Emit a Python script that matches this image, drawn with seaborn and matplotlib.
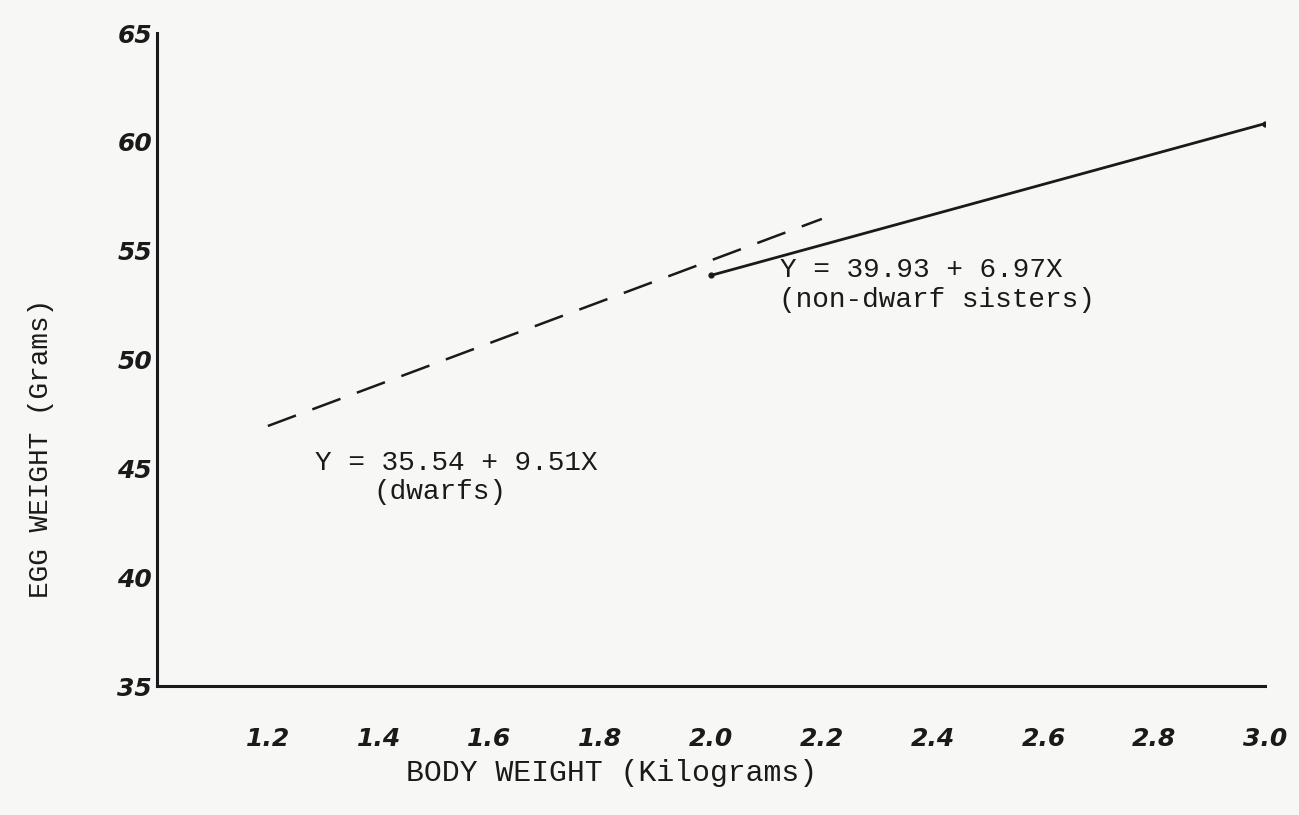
import numpy as np
import pandas as pd
import matplotlib
matplotlib.use("Agg")
import matplotlib.pyplot as plt
import seaborn as sns

# regression lines (body weight kg -> egg weight g)
dwarf_x = [1.2, 2.2]
dwarf_y = [35.54 + 9.51 * x for x in dwarf_x]
sister_x = [2.0, 3.0]
sister_y = [39.93 + 6.97 * x for x in sister_x]

x_ticks = [1.2, 1.4, 1.6, 1.8, 2.0, 2.2, 2.4, 2.6, 2.8, 3.0]
x_labels = ["1.2", "1.4", "1.6", "1.8", "2.0", "2.2", "2.4", "2.6", "2.8", "3.0"]
y_ticks = [35, 40, 45, 50, 55, 60, 65]
y_labels = ["35", "40", "45", "50", "55", "60", "65"]

dwarf_df = pd.DataFrame({"body": dwarf_x, "egg": dwarf_y})
sister_df = pd.DataFrame({"body": sister_x, "egg": sister_y})

sns.set_style("white")
plt.rcParams["font.family"] = ["DejaVu Sans"]

bg = "#f7f7f6"
ink = "#1a1a1a"
fig = plt.figure(figsize=(12.99, 8.15), dpi=100, facecolor=bg)
ax = fig.add_axes([0.1209, 0.158, 0.853, 0.8015])
ax.set_facecolor(bg)

sns.lineplot(data=dwarf_df, x="body", y="egg", ax=ax, color=ink, lw=1.8,
             linestyle=(0, (12, 7)))
sns.lineplot(data=sister_df, x="body", y="egg", ax=ax, color=ink, lw=2)
ax.scatter(sister_x, sister_y, s=12, color=ink, zorder=3)

ax.set_xlim(1.0, 3.0)
ax.set_ylim(35, 65)
ax.set_xticks(x_ticks)
ax.set_xticklabels(x_labels, fontsize=18, fontweight="bold", fontstyle="italic", color=ink)
ax.set_yticks(y_ticks)
ax.set_yticklabels(y_labels, fontsize=18, fontweight="bold", fontstyle="italic", color=ink)
ax.tick_params(axis="x", length=3, width=2, pad=28, color=ink, direction="inout")
ax.tick_params(axis="y", length=3, width=2, pad=2, color=ink, direction="inout")

for side in ["top", "right"]:
    ax.spines[side].set_visible(False)
for side in ["left", "bottom"]:
    ax.spines[side].set_linewidth(2.2)
    ax.spines[side].set_color(ink)

mono = "Liberation Mono"
ax.set_xlabel("BODY WEIGHT (Kilograms)", fontsize=21.5, family=mono, color=ink)
ax.set_ylabel("EGG WEIGHT (Grams)", fontsize=20, family=mono, color=ink)
ax.xaxis.set_label_coords(0.41, -0.112)
ax.yaxis.set_label_coords(-0.093, 0.364)

txt = dict(fontsize=20, family=mono, color=ink, va="center")
ax.text(2.125, 54.1, "Y = 39.93 + 6.97X", ha="left", **txt)
ax.text(2.122, 52.75, "(non-dwarf sisters)", ha="left", **txt)
ax.text(1.54, 45.25, "Y = 35.54 + 9.51X", ha="center", **txt)
ax.text(1.51, 43.9, "(dwarfs)", ha="center", **txt)

fig.savefig("out.png", dpi=100, facecolor=bg)
